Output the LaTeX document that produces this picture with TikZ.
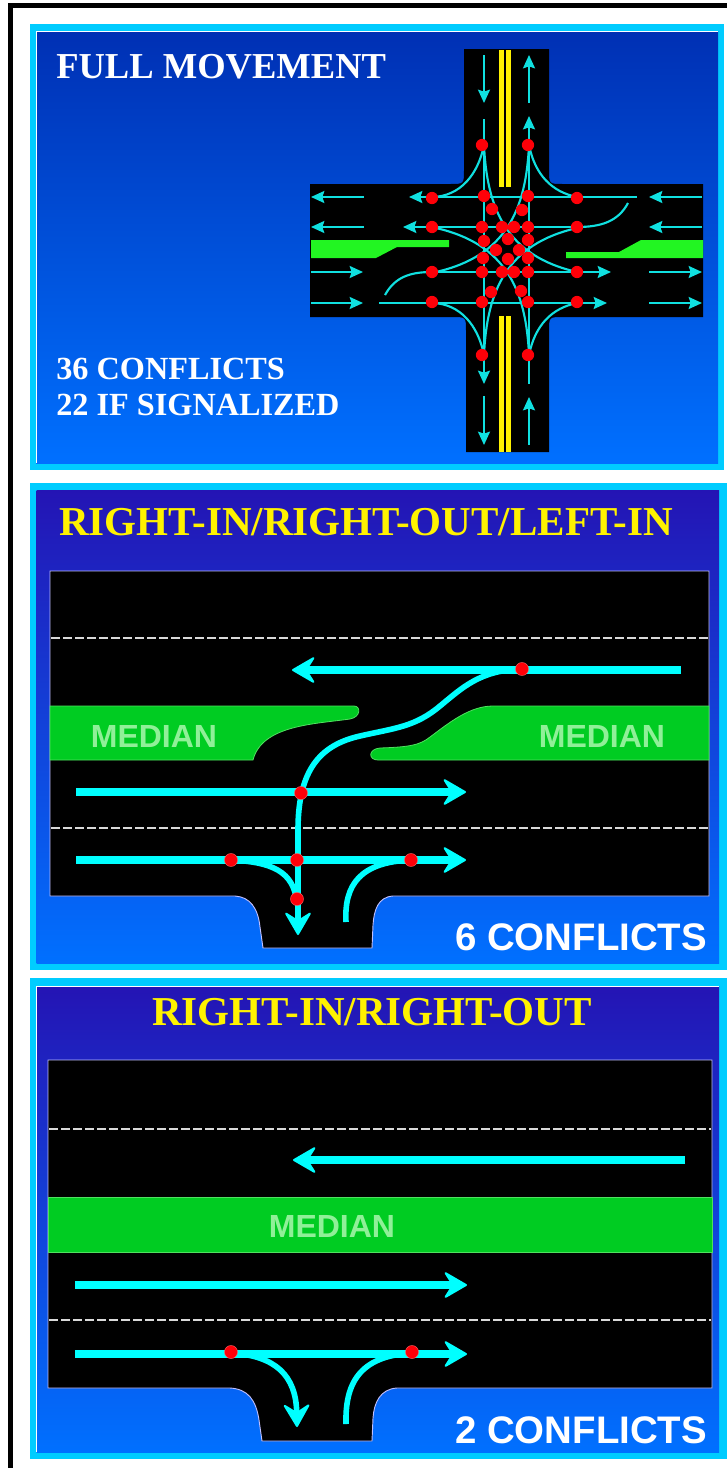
\documentclass[tikz,border=0pt]{standalone}
\usepackage{xcolor}
\usepackage{fontspec}
\setmainfont{Liberation Serif}
\newfontfamily\arialfont{Liberation Sans}
\usetikzlibrary{arrows.meta}
\definecolor{panelrim}{HTML}{00CCFF}
\definecolor{laneline}{HTML}{00FFFF}
\definecolor{thinlane}{HTML}{10E0E0}
\definecolor{hitred}{HTML}{FF0008}
\definecolor{medianfill}{HTML}{00CC22}
\definecolor{medianedge}{HTML}{50E060}
\definecolor{mediantext}{HTML}{90F098}
\definecolor{islandfill}{HTML}{22F522}
\definecolor{topblue}{HTML}{0030B4}
\definecolor{topviolet}{HTML}{2414B4}
\definecolor{midviolet}{HTML}{1A30C8}
\definecolor{lowblue}{HTML}{0070FF}
\tikzset{
  fullhead/.style={-{Stealth[length=10pt,width=9pt,inset=1.5pt]}},
  bighead/.style={-{Stealth[length=19pt,width=22pt,inset=7pt,line width=1.5pt,round]}},
  smalllane/.style={draw=thinlane, line width=1.6pt, fullhead},
  smallturn/.style={draw=thinlane, line width=1.6pt},
  biglane/.style={draw=laneline, line width=5.4pt, bighead},
  bigturn/.style={draw=laneline, line width=4.2pt},
  smalldot/.style={circle, fill=hitred, inner sep=0pt, minimum size=9.2pt},
  bigdot/.style={circle, fill=hitred, draw=red!60!white, line width=.3pt, inner sep=0pt, minimum size=9.8pt},
  roadedge/.style={fill=black, draw=white!75!blue, line width=.7pt},
  medianbed/.style={fill=medianfill, draw=medianedge, line width=.6pt},
  islandbed/.style={fill=islandfill},
  laneDash/.style={draw=white!85!black, line width=1.8pt, dash pattern=on 7pt off 2pt},
  headtext/.style={anchor=base west, inner sep=0pt, font=\fontsize{30.8pt}{32pt}\selectfont\bfseries, text=yellow},
  fulltext/.style={anchor=base west, inner sep=0pt, font=\fontsize{27.4pt}{30pt}\selectfont\bfseries, text=white},
  counttext/.style={anchor=base west, inner sep=0pt, font=\fontsize{24.2pt}{26pt}\selectfont\bfseries, text=white},
  sumtext/.style={anchor=base west, inner sep=0pt, font=\arialfont\fontsize{28.8pt}{30pt}\selectfont\bfseries, text=white},
  mediantag/.style={anchor=base, inner sep=0pt, font=\arialfont\fontsize{24pt}{26pt}\selectfont\bfseries, text=mediantext},
}
\begin{document}
\begin{tikzpicture}[x=0.75pt, y=-0.75pt]
    \useasboundingbox (0,0) rectangle (727,1468);
    % page frame
    \fill[black] (8,3) rectangle (727,8);
    \fill[black] (8,3) rectangle (13,1468);

    % panel 1
    \fill[panelrim] (30,24) rectangle (724,470);
    \shade[top color=topblue, bottom color=lowblue] (36,31) rectangle (718,463);
    \draw[white, line width=.5pt] (36,463) -- (36,31) -- (718,31);
    \node[fulltext] (fullhead) at (56,78) {FULL MOVEMENT};
    \node[counttext] (fullcount) at (56,379.5) {36 CONFLICTS};
    \node[counttext] (fullsignal) at (56,415.5) {22 IF SIGNALIZED};

    % crossing
    \fill[black] (464,49) -- (549,49) -- (549,170) .. controls (549,184) .. (563,184)
        -- (703,184) -- (703,317) -- (563,317) .. controls (549,317) .. (549,331)
        -- (549,452) -- (466,452) -- (466,331) .. controls (466,317) .. (452,317)
        -- (310,317) -- (310,184) -- (450,184) .. controls (464,184) .. (464,170) -- cycle;
    \fill[yellow] (499,50) rectangle (503.5,187);
    \fill[yellow] (506,50) rectangle (510.5,187);
    \fill[yellow] (499,316) rectangle (503.5,452);
    \fill[yellow] (506,316) rectangle (510.5,452);
    \fill[islandbed] (311,240) -- (449,240) -- (449,247) -- (397,247) -- (376,258) -- (311,258) -- cycle;
    \fill[islandbed] (703,240) -- (641,240) -- (619,252) -- (566,252) -- (566,258) -- (703,258) -- cycle;

    % straight lanes
    \foreach \xa/\ya/\xb/\yb in {484/55/484/103, 484/119/484/384, 484/396/484/445,
        529/103/529/55, 529/384/529/116, 529/445/529/397,
        702/197/649/197, 637/197/409/197, 364/197/311/197,
        702/227/649/227, 577/227/403/227, 364/227/311/227,
        311/272/363/272, 430/272/611/272, 649/272/702/272,
        311/303/363/303, 379/303/607/303, 649/303/702/303}
      \draw[smalllane] (\xa,\ya) -- (\xb,\yb);

    % turns
    \draw[smallturn] (433,197) .. controls (460,196) and (478,175) .. (484,145);
    \draw[smallturn] (529,145) .. controls (535,175) and (552,192) .. (577,197);
    \draw[smallturn] (433,303) .. controls (460,304) and (478,325) .. (484,355);
    \draw[smallturn] (529,355) .. controls (535,325) and (552,308) .. (577,303);
    \draw[smallturn] (628,203) .. controls (618,222) and (600,227) .. (577,227);
    \draw[smallturn] (385,295) .. controls (395,277) and (410,272) .. (432,272);
    \draw[smallturn] (484,145) .. controls (487,210) and (507,256) .. (577,272);
    \draw[smallturn] (529,355) .. controls (526,290) and (506,244) .. (436,228);
    \draw[smallturn] (484,355) .. controls (487,290) and (507,244) .. (577,228);
    \draw[smallturn] (529,145) .. controls (526,210) and (506,256) .. (436,272);

    % 36 points
    \foreach \xa/\ya [count=\i] in {432/198, 432/227, 432/272, 432/302, 484/196, 528/196, 577/198,
        492/209, 522/210, 482/227, 502/227, 514/227, 528/227, 577/227,
        484/241, 508/239, 528/240, 496/250, 519/250, 483/258, 508/259, 528/258,
        482/272, 502/272, 514/272, 528/272, 577/272, 491/292, 521/291,
        482/302, 528/302, 577/302, 482/145, 528/145, 482/355, 528/355}
      \node[smalldot] (full\i) at (\xa,\ya) {};

    % panel 2
    \fill[panelrim] (30,483) rectangle (727,970);
    \shade[top color=topviolet, middle color=midviolet, bottom color=lowblue] (36.5,490) rectangle (719,963);
    \node[headtext] (lefthead) at (59,535) {RIGHT-IN/RIGHT-OUT/LEFT-IN};
    \path[roadedge] (50,571) -- (709,571) -- (709,896) -- (393,896)
        .. controls (378,897) and (374,910) .. (373,925) -- (372,948) -- (263,948) -- (260,927)
        .. controls (258,908) and (250,897) .. (235,896) -- (50,896) -- cycle;
    \draw[laneDash] (51,638) -- (708,638);
    \draw[laneDash] (51,828) -- (708,828);
    \path[medianbed] (50,706) -- (354,706) .. controls (361,706) and (361,717) .. (350,719)
        .. controls (315,724) and (262,725) .. (253,760) -- (50,760) -- cycle;
    \path[medianbed] (709,706) -- (493,706) .. controls (470,706) and (450,722) .. (430,737)
        .. controls (420,745) and (410,747) .. (380,748) .. controls (368,749) and (368,760) .. (378,760)
        -- (709,760) -- cycle;
    \node[mediantag] (medianwest) at (154,747) {MEDIAN};
    \node[mediantag] (medianeast) at (602,747) {MEDIAN};
    \node[sumtext] (leftcount) at (455,950) {6 CONFLICTS};

    \draw[biglane] (681,670) -- (292,670);
    \draw[biglane] (76,792) -- (466,792);
    \draw[biglane] (76,860) -- (466,860);
    \draw[bigturn] (231,860) .. controls (270,862) and (295,870) .. (297,905);
    \draw[bigturn] (346,922) .. controls (344,885) and (360,862) .. (411,860);
    \draw[bigturn, bighead] (522,669) .. controls (480,670) and (462,688) .. (440,706)
        .. controls (415,727) and (395,728) .. (360,736)
        .. controls (320,745) and (298,770) .. (298,830) -- (298,935);
    \foreach \xa/\ya [count=\i] in {522/669, 301/793, 231/860, 297/860, 411/860, 297/899}
      \node[bigdot] (left\i) at (\xa,\ya) {};

    % panel 3
    \fill[panelrim] (30,978) rectangle (727,1459);
    \shade[top color=topviolet, middle color=midviolet, bottom color=lowblue] (36.5,986) rectangle (719,1452);
    \draw[white, line width=.5pt] (36.5,1452) -- (36.5,986) -- (719,986);
    \node[headtext] (righthead) at (152,1025) {RIGHT-IN/RIGHT-OUT};
    \path[roadedge] (48,1060) -- (712,1060) -- (712,1388) -- (397,1388)
        .. controls (380,1389) and (374,1403) .. (373,1418) -- (372,1441) -- (262,1441) -- (259,1420)
        .. controls (256,1400) and (248,1389) .. (230,1388) -- (48,1388) -- cycle;
    \draw[laneDash] (49,1129) -- (711,1129);
    \draw[laneDash] (49,1320) -- (711,1320);
    \path[medianbed] (48,1197) rectangle (712,1252);
    \node[mediantag] (medianmid) at (332,1237) {MEDIAN};
    \node[sumtext] (rightcount) at (455,1443) {2 CONFLICTS};

    \draw[biglane] (685,1160) -- (293,1160);
    \draw[biglane] (75,1285) -- (467,1285);
    \draw[biglane] (75,1354) -- (467,1354);
    \draw[bigturn, bighead] (232,1353) .. controls (275,1356) and (296,1375) .. (297,1427);
    \draw[bigturn] (346,1424) .. controls (345,1385) and (358,1356) .. (412,1353);
    \foreach \xa/\ya [count=\i] in {231/1352, 412/1352}
      \node[bigdot] (right\i) at (\xa,\ya) {};
\end{tikzpicture}
\end{document}
